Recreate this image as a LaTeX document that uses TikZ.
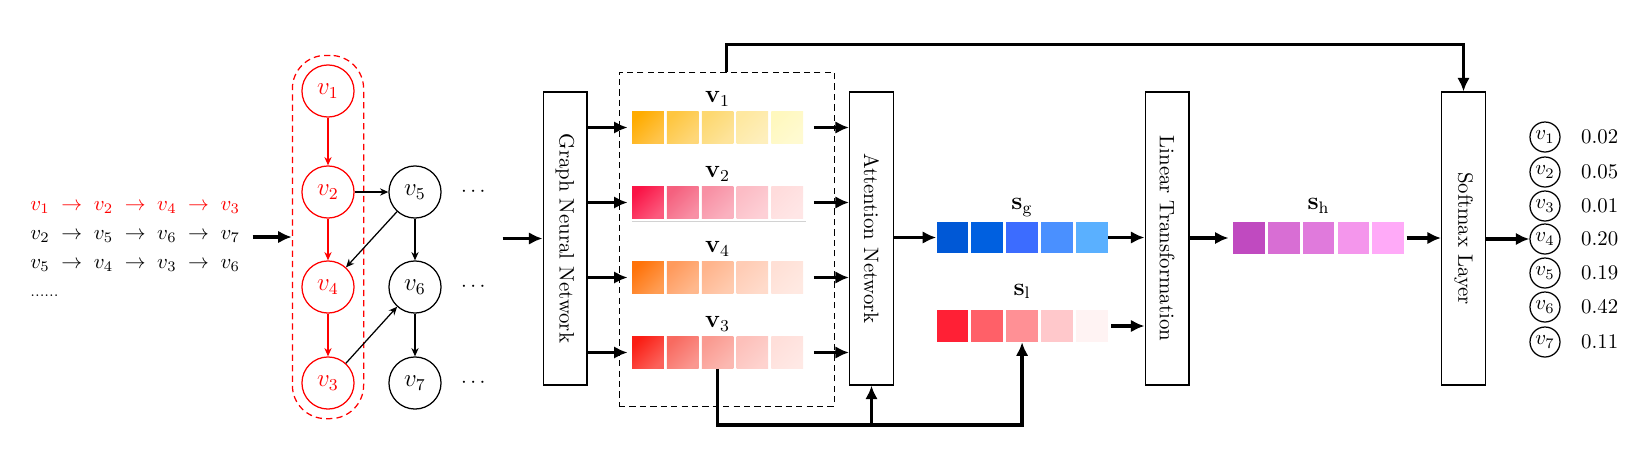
\documentclass[tikz,border=0pt]{standalone}
\usepackage{amsmath}
\usepackage{graphicx}
\usetikzlibrary{arrows.meta, positioning, calc, fit}
\definecolor{v1col1}{RGB}{255, 172, 0}
\definecolor{v1col2}{RGB}{254, 198, 64}
\definecolor{v1col3}{RGB}{253, 216, 112}
\definecolor{v1col4}{RGB}{254, 232, 160}
\definecolor{v1col5}{RGB}{255, 248, 190}
\definecolor{v2col1}{RGB}{250, 20, 70}
\definecolor{v2col2}{RGB}{245, 96, 126}
\definecolor{v2col3}{RGB}{248, 144, 164}
\definecolor{v2col4}{RGB}{252, 188, 197}
\definecolor{v2col5}{RGB}{255, 220, 220}
\definecolor{v4col1}{RGB}{255, 115, 10}
\definecolor{v4col2}{RGB}{255, 154, 92}
\definecolor{v4col3}{RGB}{255, 180, 140}
\definecolor{v4col4}{RGB}{255, 204, 181}
\definecolor{v4col5}{RGB}{255, 224, 214}
\definecolor{v3col1}{RGB}{250, 30, 20}
\definecolor{v3col2}{RGB}{248, 106, 96}
\definecolor{v3col3}{RGB}{250, 154, 144}
\definecolor{v3col4}{RGB}{253, 192, 186}
\definecolor{v3col5}{RGB}{255, 223, 218}
\definecolor{sgcol1}{RGB}{0, 88, 214}
\definecolor{sgcol2}{RGB}{0, 96, 224}
\definecolor{sgcol3}{RGB}{60, 108, 255}
\definecolor{sgcol4}{RGB}{74, 144, 255}
\definecolor{sgcol5}{RGB}{90, 176, 255}
\definecolor{slcol1}{RGB}{255, 32, 53}
\definecolor{slcol2}{RGB}{255, 96, 104}
\definecolor{slcol3}{RGB}{255, 144, 149}
\definecolor{slcol4}{RGB}{255, 200, 203}
\definecolor{slcol5}{RGB}{255, 243, 243}
\definecolor{shcol1}{RGB}{192, 74, 192}
\definecolor{shcol2}{RGB}{216, 110, 212}
\definecolor{shcol3}{RGB}{224, 122, 220}
\definecolor{shcol4}{RGB}{244, 150, 236}
\definecolor{shcol5}{RGB}{255, 170, 248}

\begin{document}
\begin{tikzpicture}[
    x=0.48pt, y=-0.48pt,
    node distance = 1.1pt,
    vert/.style = {circle, draw=black, semithick, minimum size=25pt, inner sep=0pt, font=\large},
    redvert/.style = {vert, draw=red, text=red},
    outvert/.style = {circle, draw=black, semithick, minimum size=14.4pt, inner sep=0pt},
    layerbox/.style = {rectangle, draw=black, semithick, minimum width=21pt, minimum height=140.6pt, inner sep=0pt},
    cell/.style = {rectangle, minimum size=15.2pt, inner sep=0pt},
    gcell/.style = {cell, left color=#1, right color=#1!70!white, shading angle=45},
    fcell/.style = {cell, fill=#1},
    veclabel/.style = {font=\large, inner sep=1pt},
    arrow/.style = {line width=1.7pt, -{Latex[length=6.5pt, width=6pt]}},
    link/.style = {semithick, -{Stealth[length=4pt, width=3.5pt]}},
    redlink/.style = {link, red},
    dashbox/.style = {draw, dash pattern=on 3pt off 2pt}
]
    \useasboundingbox (0,0) rectangle (1637,463);

    % Session sequences
    \node[align=left, anchor=west] (seqs) at (23,249) {
        \textcolor{red}{$v_1 \;\rightarrow\; v_2 \;\rightarrow\; v_4 \;\rightarrow\; v_3$}\\[2pt]
        $v_2 \;\rightarrow\; v_5 \;\rightarrow\; v_6 \;\rightarrow\; v_7$\\[2pt]
        $v_5 \;\rightarrow\; v_4 \;\rightarrow\; v_3 \;\rightarrow\; v_6$\\[1.5pt]
        {\scriptsize ......}
    };

    % Session graph
    \node[redvert] (g1) at (328,91) {$v_1$};
    \node[redvert] (g2) at (328,192) {$v_2$};
    \node[redvert] (g4) at (328,287) {$v_4$};
    \node[redvert] (g3) at (328,383) {$v_3$};
    \node[vert] (g5) at (415,192) {$v_5$};
    \node[vert] (g6) at (415,287) {$v_6$};
    \node[vert] (g7) at (415,383) {$v_7$};
    \node (d5) at (475,192) {$\cdots$};
    \node (d6) at (475,287) {$\cdots$};
    \node (d7) at (475,383) {$\cdots$};
    \node[fit=(g1)(g3), dashbox, draw=red, semithick, rounded corners=16pt, inner sep=4.3pt] (sess) {};

    \draw[redlink] (g1) -- (g2);
    \draw[redlink] (g2) -- (g4);
    \draw[redlink] (g4) -- (g3);
    \draw[link] (g2) -- (g5);
    \draw[link] (g5) -- (g4);
    \draw[link] (g5) -- (g6);
    \draw[link] (g3) -- (g6);
    \draw[link] (g6) -- (g7);

    % GNN
    \node[layerbox] (gnn) at (565,238.5) {\rotatebox{-90}{Graph Neural Network}};
    \node[dashbox, thin, minimum width=103.2pt, minimum height=160.3pt] (hid) at (726.5,239) {};

    % Item embeddings
    \node[gcell=v1col1] (h1c1) at (648,127.5) {};
    \node[gcell=v1col2, right=of h1c1] (h1c2) {};
    \node[gcell=v1col3, right=of h1c2] (h1c3) {};
    \node[gcell=v1col4, right=of h1c3] (h1c4) {};
    \node[gcell=v1col5, right=of h1c4] (h1c5) {};
    \node[veclabel, above=1pt of h1c3] {$\mathbf{v}_1$};

    \node[gcell=v2col1] (h2c1) at (648,202.5) {};
    \node[gcell=v2col2, right=of h2c1] (h2c2) {};
    \node[gcell=v2col3, right=of h2c2] (h2c3) {};
    \node[gcell=v2col4, right=of h2c3] (h2c4) {};
    \node[gcell=v2col5, right=of h2c4] (h2c5) {};
    \node[veclabel, above=1pt of h2c3] {$\mathbf{v}_2$};
    \draw[gray!35, line width=0.7pt] ([yshift=-1.3pt]h2c1.south west) -- ([yshift=-1.3pt, xshift=1pt]h2c5.south east);

    \node[gcell=v4col1] (h4c1) at (648,277.5) {};
    \node[gcell=v4col2, right=of h4c1] (h4c2) {};
    \node[gcell=v4col3, right=of h4c2] (h4c3) {};
    \node[gcell=v4col4, right=of h4c3] (h4c4) {};
    \node[gcell=v4col5, right=of h4c4] (h4c5) {};
    \node[veclabel, above=1pt of h4c3] {$\mathbf{v}_4$};

    \node[gcell=v3col1] (h3c1) at (648,352.5) {};
    \node[gcell=v3col2, right=of h3c1] (h3c2) {};
    \node[gcell=v3col3, right=of h3c2] (h3c3) {};
    \node[gcell=v3col4, right=of h3c3] (h3c4) {};
    \node[gcell=v3col5, right=of h3c4] (h3c5) {};
    \node[veclabel, above=1pt of h3c3] {$\mathbf{v}_3$};

    % Attention
    \node[layerbox] (attn) at (871.5,238.5) {\rotatebox{-90}{Attention Network}};

    % Session embeddings
    \node[fcell=sgcol1] (sgc1) at (952.5,237.5) {};
    \node[fcell=sgcol2, right=of sgc1] (sgc2) {};
    \node[fcell=sgcol3, right=of sgc2] (sgc3) {};
    \node[fcell=sgcol4, right=of sgc3] (sgc4) {};
    \node[fcell=sgcol5, right=of sgc4] (sgc5) {};
    \node[veclabel, above=1pt of sgc3] {$\mathbf{s}_\mathrm{g}$};

    \node[fcell=slcol1] (slc1) at (952.5,326) {};
    \node[fcell=slcol2, right=of slc1] (slc2) {};
    \node[fcell=slcol3, right=of slc2] (slc3) {};
    \node[fcell=slcol4, right=of slc3] (slc4) {};
    \node[fcell=slcol5, right=of slc4] (slc5) {};
    \node[veclabel, above=4pt of slc3] {$\mathbf{s}_\mathrm{l}$};

    \node[layerbox] (lin) at (1167,238.5) {\rotatebox{-90}{Linear Transformation}};

    \node[fcell=shcol1] (shc1) at (1249,238) {};
    \node[fcell=shcol2, right=of shc1] (shc2) {};
    \node[fcell=shcol3, right=of shc2] (shc3) {};
    \node[fcell=shcol4, right=of shc3] (shc4) {};
    \node[fcell=shcol5, right=of shc4] (shc5) {};
    \node[veclabel, above=3pt of shc3] {$\mathbf{s}_\mathrm{h}$};

    \node[layerbox] (soft) at (1463.5,238.5) {\rotatebox{-90}{Softmax Layer}};

    % Scores
    \node[outvert] (o1) at (1545,137) {$v_1$};
    \node[outvert] (o2) at (1545,172) {$v_2$};
    \node[outvert] (o3) at (1545,206) {$v_3$};
    \node[outvert] (o4) at (1545,239) {$v_4$};
    \node[outvert] (o5) at (1545,273) {$v_5$};
    \node[outvert] (o6) at (1545,307) {$v_6$};
    \node[outvert] (o7) at (1545,342) {$v_7$};
    \node[right=6.3pt of o1] (p1) {0.02};
    \node[right=6.3pt of o2] (p2) {0.05};
    \node[right=6.3pt of o3] (p3) {0.01};
    \node[right=6.3pt of o4] (p4) {0.20};
    \node[right=6.3pt of o5] (p5) {0.19};
    \node[right=6.3pt of o6] (p6) {0.42};
    \node[right=6.3pt of o7] (p7) {0.11};

    % ARROWS - Main flow
    \draw[arrow, shorten <=2.5pt] (seqs.east |- sess.west) -- (sess.west);
    \draw[arrow, shorten <=3pt] (d5.east |- gnn.west) -- (gnn.west);
    \draw[arrow, shorten >=2pt] (gnn.east |- h1c1) -- (h1c1.west);
    \draw[arrow, shorten >=2pt] (gnn.east |- h2c1) -- (h2c1.west);
    \draw[arrow, shorten >=2pt] (gnn.east |- h4c1) -- (h4c1.west);
    \draw[arrow, shorten >=2pt] (gnn.east |- h3c1) -- (h3c1.west);
    \draw[arrow, shorten <=5pt] (h1c5.east) -- (attn.west |- h1c5);
    \draw[arrow, shorten <=5pt] (h2c5.east) -- (attn.west |- h2c5);
    \draw[arrow, shorten <=5pt] (h4c5.east) -- (attn.west |- h4c5);
    \draw[arrow, shorten <=5pt] (h3c5.east) -- (attn.west |- h3c5);
    \draw[arrow] (attn.east |- sgc1) -- (sgc1.west);
    \draw[arrow] (sgc5.east) -- (lin.west |- sgc5);
    \draw[arrow, shorten <=1.5pt] (slc5.east) -- (lin.west |- slc5);
    \draw[arrow, shorten >=2pt] (lin.east |- shc1) -- (shc1.west);
    \draw[arrow, shorten <=1pt] (shc5.east) -- (soft.west |- shc5);
    \draw[arrow] (soft.east |- o4) -- (o4.west);

    % Skip connections
    \draw[arrow] (hid.north) -- ++(0,-27) -| (soft.north);
    \draw[arrow] (h3c3.south) -- (h3c3.south |- 0,425) -| (slc3.south);
    \draw[arrow] (attn.south |- 0,425) -- (attn.south);

\end{tikzpicture}
\end{document}
